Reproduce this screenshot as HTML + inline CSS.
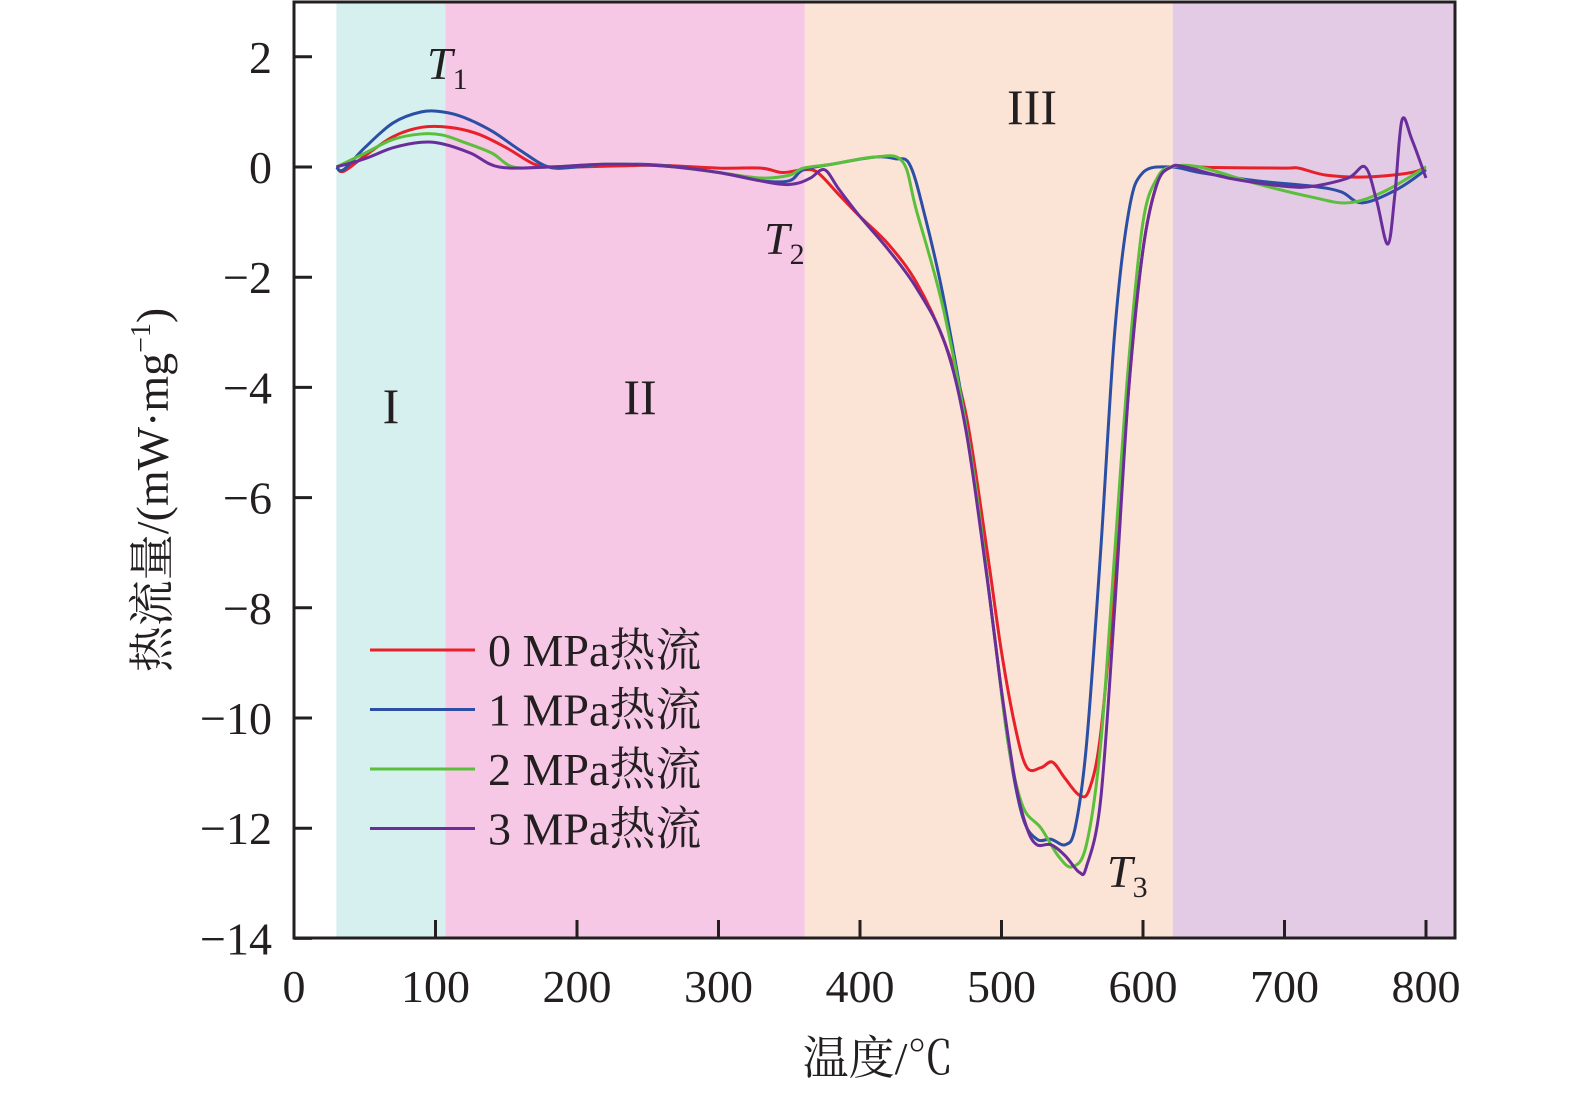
<!DOCTYPE html>
<html><head><meta charset="utf-8"><style>
html,body{margin:0;padding:0;background:#fff;overflow:hidden;width:1575px;height:1099px;}
svg{display:block;font-family:"Liberation Serif","Noto Serif CJK SC",serif;}
</style></head><body>
<svg id="chart" width="1575" height="1099" viewBox="0 0 1575 1099" xmlns="http://www.w3.org/2000/svg">
<g id="bands"></g>
<g id="lines"></g>
<g id="axes"></g>
<g id="texts" fill="#231f20">
<text x="427" y="79" font-size="46" font-style="italic">T<tspan font-size="30" font-style="normal" dy="10">1</tspan></text>
<text x="764" y="254" font-size="46" font-style="italic">T<tspan font-size="30" font-style="normal" dy="10">2</tspan></text>
<text x="1107" y="887" font-size="46" font-style="italic">T<tspan font-size="30" font-style="normal" dy="10">3</tspan></text>
<text x="878" y="1074" font-size="46" text-anchor="middle">温度/℃</text>
<text transform="translate(168,490) rotate(-90)" font-size="46" text-anchor="middle">热流量/(mW·mg<tspan font-size="28" dy="-18">−1</tspan><tspan dy="18">)</tspan></text>
</g>
</svg>
<script>
const xTicks=[0,100,200,300,400,500,600,700,800];
const yTicks=[2,0,-2,-4,-6,-8,-10,-12,-14];
const regionBounds=[30,107,361,621,820];
const regionNames=["I","II","III",""];
const seriesNames=["0 MPa热流","1 MPa热流","2 MPa热流","3 MPa热流"];
const tRed=[30,35,50,70,90,110,130,150,170,185,200,230,260,300,330,345,360,370,385,400,420,440,460,475,490,500,510,518,528,536,545,555,562,570,580,590,600,610,620,650,700,710,730,760,790,800];
const vRed=[0,-0.08,0.2,0.55,0.72,0.72,0.6,0.35,0.05,0,0,0.02,0.03,-0.02,-0.02,-0.1,-0.05,-0.1,-0.5,-0.9,-1.4,-2.1,-3.2,-4.5,-7,-8.8,-10.2,-10.9,-10.9,-10.8,-11.1,-11.4,-11.3,-10.3,-7.5,-4,-1.5,-0.3,0,-0.01,-0.02,-0.02,-0.15,-0.18,-0.1,0];
const tBlue=[30,35,50,70,90,105,120,140,160,180,200,220,260,300,330,350,360,380,410,425,435,445,460,480,495,505,515,525,535,545,552,560,570,580,590,600,620,640,680,720,740,755,780,800];
const vBlue=[0,-0.05,0.35,0.8,1.0,1.0,0.9,0.65,0.3,0,0,0.05,0.03,-0.1,-0.25,-0.25,-0.05,0.05,0.18,0.15,0.05,-0.8,-2.5,-5.5,-8.5,-10.5,-11.8,-12.2,-12.2,-12.3,-12,-10.5,-7,-3,-0.8,-0.1,0,-0.1,-0.25,-0.35,-0.45,-0.65,-0.4,-0.05];
const tGreen=[30,50,70,90,105,120,140,155,180,220,260,300,330,350,360,380,410,430,440,460,480,495,505,515,528,540,550,560,570,580,590,600,610,620,640,680,720,745,770,800];
const vGreen=[0,0.25,0.5,0.6,0.58,0.45,0.25,0,0,0.05,0.02,-0.1,-0.2,-0.15,-0.02,0.05,0.18,0.1,-0.8,-2.7,-5.5,-8.5,-10.5,-11.6,-12,-12.5,-12.7,-12.3,-10.5,-7,-3.5,-1,-0.2,0,0,-0.3,-0.55,-0.65,-0.45,0];
const tPurple=[30,50,70,90,105,125,145,180,220,260,300,340,355,365,375,385,400,420,440,460,475,490,500,510,518,525,535,545,555,560,570,580,590,600,610,620,630,660,700,720,745,757,765,773,778,783,790,800];
const vPurple=[0,0.15,0.35,0.45,0.42,0.25,0,0,0.05,0.02,-0.1,-0.3,-0.3,-0.2,-0.05,-0.4,-0.9,-1.5,-2.2,-3.2,-4.8,-7.5,-9.5,-11.2,-12,-12.3,-12.3,-12.5,-12.8,-12.7,-11.5,-8,-4,-1.5,-0.3,0,0,-0.2,-0.35,-0.35,-0.2,0,-0.6,-1.4,-0.5,0.85,0.5,-0.2];

const NS="http://www.w3.org/2000/svg";
const X0=294,X1=1455,Y0=2,Y1=938;
const sx=v=>294+v*1.415;
const sy=v=>167-v*55.1;
function mk(tag,attrs,parent){const e=document.createElementNS(NS,tag);for(const k in attrs)e.setAttribute(k,attrs[k]);parent.appendChild(e);return e;}
const bands=document.getElementById('bands'),lines=document.getElementById('lines'),axes=document.getElementById('axes'),texts=document.getElementById('texts');
const bandColors=["#d5f0ef","#f6c8e6","#fbe3d6","#e3cbe6"];
for(let i=0;i<4;i++){
  const r=mk('rect',{x:sx(regionBounds[i]),y:Y0,width:sx(regionBounds[i+1])-sx(regionBounds[i]),height:Y1-Y0,fill:bandColors[i]},bands);
  
  
}
const regionLabelPos=[[391,423],[640,414],[1032,124]];
for(let i=0;i<3;i++){
  const t=mk('text',{x:regionLabelPos[i][0],y:regionLabelPos[i][1],'font-size':50,'text-anchor':'middle',fill:'#231f20'},texts);
  t.textContent=regionNames[i];
  
  
}
const colors=["#e8202a","#2b4fa4","#5cbf3c","#6a2e9a"];
const allT=[tRed,tBlue,tGreen,tPurple],allV=[vRed,vBlue,vGreen,vPurple];
for(let s=0;s<4;s++){
  const pts=allT[s].map((t,i)=>[sx(t),sy(allV[s][i])]);
  let d='M'+pts[0][0]+','+pts[0][1];
  for(let i=0;i<pts.length-1;i++){
    const p0=pts[Math.max(0,i-1)],p1=pts[i],p2=pts[i+1],p3=pts[Math.min(pts.length-1,i+2)];
    const c1x=p1[0]+(p2[0]-p0[0])/6,c1y=p1[1]+(p2[1]-p0[1])/6;
    const c2x=p2[0]-(p3[0]-p1[0])/6,c2y=p2[1]-(p3[1]-p1[1])/6;
    d+=' C'+c1x+','+c1y+' '+c2x+','+c2y+' '+p2[0]+','+p2[1];
  }
  const p=mk('path',{d:d,fill:'none',stroke:colors[s],'stroke-width':3,'stroke-linejoin':'round'},lines);
  
  
  const ly=650+s*59.5;
  const ll=mk('line',{x1:370,x2:475,y1:ly,y2:ly,stroke:colors[s],'stroke-width':3},texts);
  
  
  const lt=mk('text',{x:488,y:ly+16,'font-size':46,fill:'#231f20'},texts);
  lt.textContent=seriesNames[s];
  
  
}
const frame=mk('rect',{x:X0,y:Y0,width:X1-X0,height:Y1-Y0,fill:'none',stroke:'#231f20','stroke-width':3},axes);


xTicks.forEach(v=>{
  const x=sx(v);
  const tk=mk('line',{x1:x,x2:x,y1:Y1,y2:Y1-18,stroke:'#231f20','stroke-width':3},axes);
  
  
  const t=mk('text',{x:x,y:1002,'font-size':46,'text-anchor':'middle',fill:'#231f20'},axes);
  t.textContent=String(v);
  
  
});
yTicks.forEach(v=>{
  const y=sy(v);
  const tk=mk('line',{x1:X0,x2:X0+18,y1:y,y2:y,stroke:'#231f20','stroke-width':3},axes);
  
  
  const t=mk('text',{x:272,y:y+16,'font-size':46,'text-anchor':'end',fill:'#231f20'},axes);
  t.textContent=v<0?'\u2212'+Math.abs(v):String(v);
  
  
});
</script>
</body></html>
